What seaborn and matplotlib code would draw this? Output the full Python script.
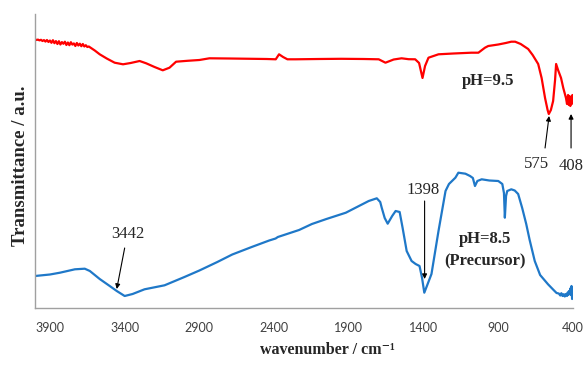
import matplotlib
matplotlib.use("Agg")
import matplotlib.pyplot as plt
import seaborn as sns
import pandas as pd

# ---- data ----
red_wn = [4000, 3990, 3980, 3970, 3960, 3950, 3940, 3930, 3920, 3910, 3900, 3890, 3880, 3870,
          3860, 3850, 3840, 3830, 3820, 3810, 3800, 3790, 3780, 3770, 3760, 3750, 3740, 3730,
          3720, 3710, 3700, 3690, 3680, 3670, 3660, 3650, 3640, 3600, 3567, 3520, 3467, 3411,
          3360, 3300, 3256, 3200, 3145, 3100, 3056, 2980, 2900, 2833, 2700, 2550, 2450, 2389,
          2367, 2340, 2311, 2256, 2100, 1950, 1800, 1700, 1655, 1600, 1547, 1500, 1456, 1430,
          1407, 1390, 1367, 1300, 1200, 1080, 1033, 989, 967, 900, 850, 813, 787, 750, 700,
          670, 633, 610, 587, 570, 562, 548, 533, 520, 513, 500, 480, 465, 447, 440, 433, 428,
          423, 418, 413, 408, 404, 400]
red_val = [268.7, 268.0, 268.4, 267.6, 268.2, 267.0, 267.9, 266.4, 268.0, 266.0, 267.5, 265.2,
           267.8, 264.8, 266.9, 264.0, 266.8, 263.5, 265.9, 264.2, 266.3, 263.0, 265.5, 262.8,
           265.8, 263.4, 264.6, 262.0, 265.0, 262.5, 264.3, 261.8, 264.0, 261.5, 262.8, 261.0,
           261.5, 257.5, 253.7, 249.5, 245.3, 243.7, 245.0, 247.0, 244.7, 241.0, 237.7, 240.3,
           246.3, 247.2, 248.0, 249.7, 249.5, 249.2, 249.0, 248.7, 253.7, 251.0, 248.7, 248.7,
           249.0, 249.2, 249.0, 248.7, 245.3, 248.5, 249.7, 248.8, 248.7, 245.0, 230.0, 242.0,
           250.3, 253.7, 254.5, 255.3, 255.3, 260.3, 262.0, 263.5, 265.0, 266.3, 266.3, 264.0,
           259.0, 253.0, 244.0, 230.0, 210.0, 198.0, 194.0, 198.0, 207.0, 228.0, 244.0, 238.0,
           230.0, 220.0, 210.0, 204.0, 213.0, 203.0, 212.0, 202.0, 211.0, 204.0, 213.0, 205.0]

blue_wn = [4000, 3900, 3833, 3733, 3667, 3633, 3567, 3500, 3453, 3400, 3347, 3267, 3133, 3000,
           2900, 2780, 2680, 2550, 2433, 2390, 2375, 2233, 2147, 2050, 1920, 1767, 1713, 1690,
           1680, 1660, 1640, 1610, 1587, 1560, 1540, 1513, 1480, 1453, 1427, 1410, 1395, 1370,
           1347, 1300, 1253, 1230, 1187, 1167, 1120, 1089, 1070, 1056, 1040, 1011, 960, 900,
           873, 862, 856, 848, 840, 813, 790, 767, 740, 713, 690, 656, 620, 567, 530, 510, 495,
           485, 478, 470, 462, 455, 448, 440, 436, 431, 427, 422, 418, 414, 410, 406, 403, 400]
blue_val = [32.0, 33.5, 35.3, 38.7, 39.3, 37.0, 29.0, 22.0, 17.0, 12.0, 14.0, 18.7, 22.7, 31.0,
            37.5, 46.0, 53.5, 61.0, 67.5, 69.5, 71.0, 78.0, 84.0, 89.0, 95.3, 107.0, 109.7, 106.0,
            100.3, 90.0, 84.3, 92.0, 97.0, 96.0, 80.0, 57.0, 47.0, 44.0, 42.0, 30.0, 15.3, 25.0,
            34.0, 77.0, 117.0, 124.0, 130.3, 135.3, 134.3, 132.0, 130.0, 122.0, 127.0, 128.7,
            127.5, 127.0, 124.0, 115.0, 90.3, 112.0, 117.0, 118.7, 117.5, 114.0, 100.0, 84.0,
            68.0, 47.0, 33.0, 23.7, 18.0, 15.0, 14.5, 12.5, 14.8, 12.0, 13.8, 11.5, 14.0, 12.0,
            15.5, 13.0, 17.0, 14.5, 19.5, 13.0, 22.0, 9.0, 16.0, 11.0]

series_labels = ["pH=9.5", "pH=8.5"]
x_ticks = [3900, 3400, 2900, 2400, 1900, 1400, 900, 400]

df = pd.concat([
    pd.DataFrame({"wn": red_wn, "T": red_val, "s": series_labels[0]}),
    pd.DataFrame({"wn": blue_wn, "T": blue_val, "s": series_labels[1]}),
])

sns.set_theme(style="white")
plt.rcParams["font.family"] = ["Liberation Serif", "DejaVu Serif"]

fig = plt.figure(figsize=(5.85, 3.65), dpi=100)
ax = fig.add_axes([35 / 585, 1 - 308 / 365, (573 - 35) / 585, (308 - 14) / 365])

sns.lineplot(data=df, x="wn", y="T", hue="s", palette=["#ff0000", "#1f78c8"],
             estimator=None, sort=False, lw=1.6, legend=False, ax=ax)

ax.set_xlim(4000, 400)
ax.set_ylim(0, 294)
ax.set_xticks(x_ticks)
ax.set_xticklabels([str(t) for t in x_ticks], fontfamily="Lato", fontsize=9, color="#404040")
ax.set_yticks([])
ax.tick_params(axis="x", direction="out", length=4, width=0.8, color="#a0a0a0", pad=6)
for side in ["top", "right"]:
    ax.spines[side].set_visible(False)
for side in ["left", "bottom"]:
    ax.spines[side].set_color("#a0a0a0")
    ax.spines[side].set_linewidth(1.0)

ax.set_xlabel("wavenumber / cm\u207b\u00b9", fontsize=11.5, fontweight="bold",
              family=["Liberation Serif", "DejaVu Serif"])
ax.xaxis.set_label_coords((327 - 35) / 538, -(342 - 308) / 294)
ax.set_ylabel("Transmittance / a.u.", fontsize=13.5, fontweight="bold")
ax.yaxis.set_label_coords(-(35 - 29) / 538, (308 - 166) / 294)

ax.text(967, 227, "pH=9.5", fontsize=12, fontweight="bold", ha="center", va="center")
ax.text(987, 69, "pH=8.5", fontsize=12, fontweight="bold", ha="center", va="center")
ax.text(987, 47, "(Precursor)", fontsize=12, fontweight="bold", ha="center", va="center")

arrow = dict(arrowstyle="-|>", color="black", lw=0.8, mutation_scale=7, shrinkA=0, shrinkB=0)
ax.annotate("", xy=(560, 192), xytext=(587, 160), arrowprops=dict(arrow))
ax.text(647, 144, "575", fontsize=12, ha="center", va="center")
ax.annotate("", xy=(413, 194), xytext=(413, 160), arrowprops=dict(arrow))
ax.text(413, 142, "408", fontsize=12, ha="center", va="center")
ax.annotate("", xy=(3453, 19), xytext=(3400, 60), arrowprops=dict(arrow))
ax.text(3380, 74, "3442", fontsize=12, ha="center", va="center")
ax.annotate("", xy=(1393, 29), xytext=(1393, 107), arrowprops=dict(arrow))
ax.text(1400, 118, "1398", fontsize=12, ha="center", va="center")

fig.savefig("out.png", dpi=100)
